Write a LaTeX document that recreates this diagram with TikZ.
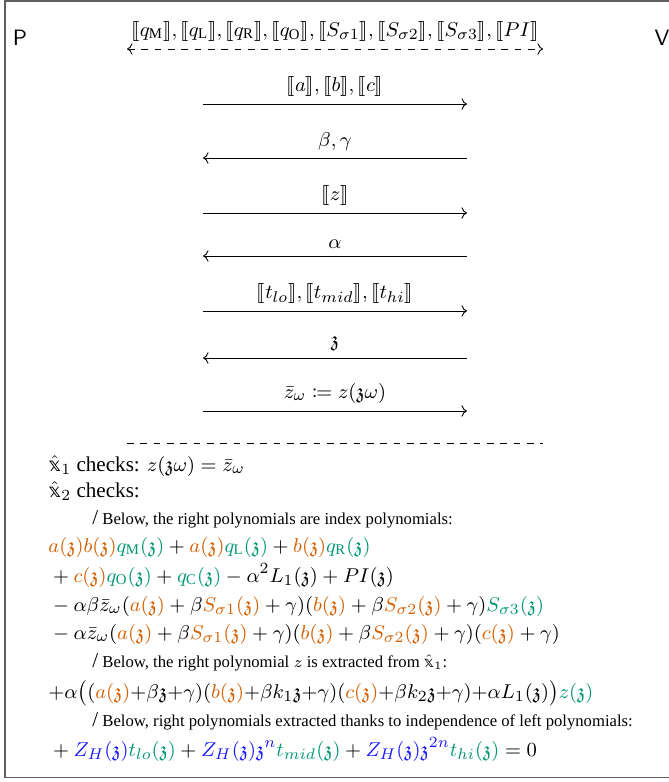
\documentclass[tikz,border=0pt]{standalone}
\usepackage{amsmath,amssymb,mathtools}
\usepackage{stmaryrd}
\usepackage{fontspec}
\setmainfont{Liberation Serif}
\newfontfamily\dsfam{DejaVu Sans}[Scale=0.9]
\usetikzlibrary{arrows.meta,positioning}
\definecolor{polyleft}{RGB}{213,94,0}
\definecolor{polyright}{RGB}{0,150,115}
\definecolor{polyvan}{RGB}{25,25,255}
\definecolor{framegray}{RGB}{95,95,95}
\newcommand{\fz}{\mathfrak{z}}
\newcommand{\cmt}[1]{\llbracket #1\rrbracket}
\newcommand{\lp}[1]{\textcolor{polyleft}{#1}}
\newcommand{\rp}[1]{\textcolor{polyright}{#1}}
\newcommand{\vp}[1]{\textcolor{polyvan}{#1}}
\newcommand{\xx}{\hat{\text{\dsfam 𝕩}}}
\newcommand{\rem}{{\fontsize{9.5}{11}\selectfont/}\ }

\begin{document}
\begin{tikzpicture}[
  x=0.45pt, y=-0.45pt,
  every node/.style={font=\fontsize{9.5}{11.5}\selectfont},
  msg/.style={-{To}},
  party/.style={font=\fontsize{10}{12}\selectfont\sffamily},
  eqn/.style={anchor=base west, inner sep=0pt},
  note/.style={anchor=base west, inner sep=0pt, font=\fontsize{7.5}{9}\selectfont},
]
\useasboundingbox (0,0) rectangle (669,782);
\clip (0,0) rectangle (669,782);
% frame, runs off past the right edge
\draw[framegray, line width=0.7pt] (5,1) rectangle (720,777.5);
% the two parties
\node[party] (P) at (20,38) {P};
\node[party] (V) at (662,38) {V};
% preprocessed commitments, known to both
\coordinate (pre-p) at (127,49);
\coordinate (pre-v) at (543,49);
\draw[dashed, {To}-{To}] (pre-p) -- (pre-v) node[midway, above] (pre)
  {$\cmt{q_{\mathrm{M}}}, \cmt{q_{\mathrm{L}}}, \cmt{q_{\mathrm{R}}}, \cmt{q_{\mathrm{O}}},
    \cmt{S_{\sigma1}}, \cmt{S_{\sigma2}}, \cmt{S_{\sigma3}}, \cmt{PI}$};
% rounds
\foreach \i/\y in {1/104, 2/158, 3/213, 4/256, 5/311, 6/358, 7/411} {
  \coordinate (p\i) at (203,\y);
  \coordinate (v\i) at (467,\y);
}
\foreach \i/\s/\e/\t in {
  1/p/v/{$\cmt{a}, \cmt{b}, \cmt{c}$},
  2/v/p/{$\beta, \gamma$},
  3/p/v/{$\cmt{z}$},
  4/v/p/{$\alpha$},
  5/p/v/{$\cmt{t_{lo}}, \cmt{t_{mid}}, \cmt{t_{hi}}$},
  6/v/p/{$\fz$},
  7/p/v/{$\bar z_\omega \coloneqq z(\fz\omega)$}}
  \draw[msg] (\s\i) -- (\e\i) node[midway, above] (m\i) {\t};
% end of interaction
\coordinate (end-p) at (127,443);
\coordinate (end-v) at (543,443);
\draw[dashed] (end-p) -- (end-v);
% verifier checks
\node[eqn] (chk1) at (48,471) {$\xx_1$ checks: $z(\fz\omega) = \bar z_\omega$};
\node[eqn] (chk2) at (48,497) {$\xx_2$ checks:};
\node[note] (n1) at (92,524) {\rem Below, the right polynomials are index polynomials:};
\node[eqn] (e1) at (48,552)
  {$\lp{a(\fz)b(\fz)}\rp{q_{\mathrm{M}}(\fz)} + \lp{a(\fz)}\rp{q_{\mathrm{L}}(\fz)}
    + \lp{b(\fz)}\rp{q_{\mathrm{R}}(\fz)}$};
\node[eqn] (e2) at (48,582)
  {${}+\lp{c(\fz)}\rp{q_{\mathrm{O}}(\fz)} + \rp{q_{\mathrm{C}}(\fz)} - \alpha^2L_1(\fz) + PI(\fz)$};
\node[eqn] (e3) at (48,611)
  {${}-\alpha\beta\bar z_\omega(\lp{a(\fz)} + \beta\lp{S_{\sigma1}(\fz)} + \gamma)
    (\lp{b(\fz)} + \beta\lp{S_{\sigma2}(\fz)} + \gamma)\rp{S_{\sigma3}(\fz)}$};
\node[eqn] (e4) at (48,639)
  {${}-\alpha\bar z_\omega(\lp{a(\fz)} + \beta\lp{S_{\sigma1}(\fz)} + \gamma)
    (\lp{b(\fz)} + \beta\lp{S_{\sigma2}(\fz)} + \gamma)(\lp{c(\fz)} + \gamma)$};
\node[note] (n2) at (92,667) {\rem Below, the right polynomial $z$ is extracted from $\xx_1$:};
\node[eqn] (e5) at (48,698)
  {$+\alpha\big((\lp{a(\fz)}{+}\beta\fz{+}\gamma)(\lp{b(\fz)}{+}\beta k_1\fz{+}\gamma)
    (\lp{c(\fz)}{+}\beta k_2\fz{+}\gamma){+}\alpha L_1(\fz)\big)\rp{z(\fz)}$};
\node[note] (n3) at (92,726) {\rem Below, right polynomials extracted thanks to independence of left polynomials:};
\node[eqn] (e6) at (48,756)
  {${}+\vp{Z_H(\fz)}\rp{t_{lo}(\fz)} + \vp{Z_H(\fz)\fz^n}\rp{t_{mid}(\fz)}
    + \vp{Z_H(\fz)\fz^{2n}}\rp{t_{hi}(\fz)} = 0$};
\end{tikzpicture}
\end{document}
